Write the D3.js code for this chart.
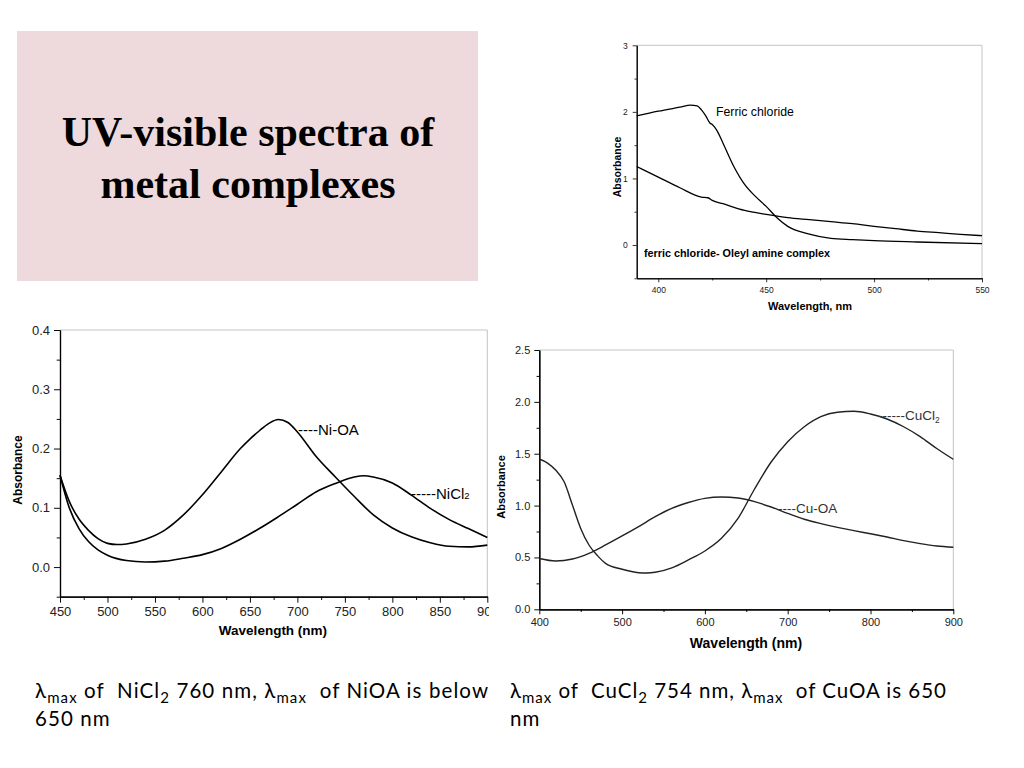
<!DOCTYPE html>
<html><head><meta charset="utf-8">
<script src="https://cdnjs.cloudflare.com/ajax/libs/d3/7.8.5/d3.min.js"></script>
<style>body{margin:0;background:#fff}svg{display:block}text{white-space:pre}</style>
</head><body>
<svg id="c" width="1024" height="768"></svg>
<script>
// ---------- data ----------
const feWavelength = [390,400,410,415,418,420,422,424,425,427,430,435,440,445,450,455,460,470,480,490,500,520,550];
const feChloride   = [1.94,2.01,2.07,2.10,2.09,2.03,1.94,1.83,1.81,1.73,1.53,1.18,0.91,0.73,0.58,0.41,0.28,0.165,0.10,0.08,0.065,0.045,0.02];
const feOAWavelength = [390,400,410,420,423,425,430,440,450,460,470,480,490,500,510,520,530,540,550];
const feOAComplex    = [1.18,1.02,0.86,0.72,0.71,0.67,0.62,0.52,0.46,0.41,0.38,0.35,0.32,0.28,0.245,0.21,0.185,0.16,0.14];
const feXTicks = [400,450,500,550];
const feYTicks = [0,1,2,3];

const niOAWavelength = [450,460,470,480,490,500,510,520,540,560,580,600,620,640,650,660,670,680,690,700,720,740,760,780,800,820,840,860,880,900];
const niOA           = [0.155,0.110,0.081,0.062,0.048,0.040,0.038,0.039,0.047,0.062,0.088,0.122,0.161,0.200,0.216,0.230,0.2425,0.249,0.244,0.228,0.186,0.152,0.119,0.088,0.066,0.051,0.041,0.035,0.034,0.037];
const niClWavelength = [450,460,470,480,490,500,520,540,560,580,600,620,640,660,680,700,720,740,760,770,780,800,820,840,860,880,900];
const niCl2          = [0.155,0.099,0.065,0.043,0.029,0.020,0.011,0.0085,0.010,0.015,0.021,0.0315,0.047,0.065,0.085,0.106,0.127,0.141,0.152,0.154,0.152,0.142,0.1215,0.099,0.080,0.065,0.050];
const niXTicks = [450,500,550,600,650,700,750,800,850,900];
const niYTicks = [0.0,0.1,0.2,0.3,0.4];

const cuWavelength = [400,410,420,430,440,450,460,470,480,500,520,530,540,560,580,600,620,640,660,680,700,720,740,760,780,800,820,840,860,880,900];
const cuCl2        = [1.449,1.41,1.34,1.23,1.006,0.78,0.62,0.52,0.443,0.386,0.353,0.350,0.357,0.40,0.476,0.562,0.684,0.877,1.16,1.42,1.616,1.76,1.857,1.90,1.909,1.883,1.835,1.76,1.665,1.55,1.446];
const cuOAWavelength = [400,420,440,460,480,500,520,540,560,580,600,620,640,660,680,700,720,740,760,780,800,820,840,860,880,900];
const cuOA           = [0.49,0.466,0.485,0.54,0.62,0.707,0.797,0.893,0.974,1.03,1.07,1.083,1.073,1.038,0.986,0.925,0.868,0.826,0.79,0.758,0.729,0.697,0.662,0.633,0.61,0.598];
const cuXTicks = [400,500,600,700,800,900];
const cuYTicks = [0.0,0.5,1.0,1.5,2.0,2.5];

const svg = d3.select("#c");
const defs = svg.append("defs");

// ---------- title box ----------
svg.append("rect").attr("x",17).attr("y",31).attr("width",461).attr("height",250).attr("fill","#eedadd");
const title = svg.append("text").attr("text-anchor","middle")
  .attr("font-family","Liberation Serif, Times New Roman, serif").attr("font-weight","bold").attr("font-size",42).attr("fill","#000");
title.append("tspan").attr("x",248).attr("y",146).text("UV-visible spectra of");
title.append("tspan").attr("x",248).attr("y",198).text("metal complexes");

// ---------- generic chart ----------
function chart(o){
  const g = svg.append("g");
  if(o.clip){
    defs.append("clipPath").attr("id",o.id).append("rect").attr("x",0).attr("y",0).attr("width",o.clip).attr("height",768);
    g.attr("clip-path",`url(#${o.id})`);
  }
  const x = d3.scaleLinear().domain(o.xd).range(o.xr);
  const y = d3.scaleLinear().domain(o.yd).range(o.yr);
  g.append("path").attr("d",`M${o.xr[0]},${o.yr[1]}H${o.xr[1]}V${o.yr[0]}`).attr("fill","none").attr("stroke","#c4c4c4").attr("stroke-width",1);
  const ff = "Liberation Sans, Arial, sans-serif";
  const xa = g.append("g").attr("transform",`translate(0,${o.yr[0]})`)
    .call(d3.axisBottom(x).tickValues(o.xt).tickSize(o.tl).tickPadding(o.tp).tickSizeOuter(0).tickFormat(d3.format("d")));
  const xm = g.append("g").attr("transform",`translate(0,${o.yr[0]})`)
    .call(d3.axisBottom(x).tickValues(o.xm).tickSize(o.tl*0.55).tickFormat("").tickSizeOuter(0));
  const ya = g.append("g").attr("transform",`translate(${o.xr[0]},0)`)
    .call(d3.axisLeft(y).tickValues(o.yt).tickSize(o.tl).tickPadding(o.tp).tickSizeOuter(0).tickFormat(o.yf));
  const ym = g.append("g").attr("transform",`translate(${o.xr[0]},0)`)
    .call(d3.axisLeft(y).tickValues(o.ym).tickSize(o.tl*0.55).tickFormat("").tickSizeOuter(0));
  [xa,xm,ya,ym].forEach(a=>{
    a.select(".domain").attr("stroke","#000").attr("stroke-width",o.aw);
    a.selectAll(".tick line").attr("stroke","#000").attr("stroke-width",o.aw*0.8);
    a.selectAll("text").attr("font-family",ff).attr("font-size",o.fs).attr("fill","#222");
  });
  g.append("text").attr("transform",`translate(${o.ylx},${o.yly}) rotate(-90)`).attr("text-anchor","middle")
    .attr("font-family",ff).attr("font-weight","bold").attr("font-size",o.lfs).text("Absorbance");
  g.append("text").attr("x",o.xlx).attr("y",o.xly).attr("text-anchor","middle")
    .attr("font-family",ff).attr("font-weight","bold").attr("font-size",o.lfs2||o.lfs).text(o.xlab);
  const line = d3.line().x(d=>x(d[0])).y(d=>y(d[1])).curve(d3.curveMonotoneX);
  o.series.forEach(s=>{
    g.append("path").datum(d3.zip(s.x,s.y)).attr("d",line).attr("fill","none")
      .attr("stroke",o.lc).attr("stroke-width",o.lw).attr("stroke-linejoin","round");
  });
  return {g,x,y,ff};
}

// ---------- top: ferric chloride ----------
const fe = chart({id:"fe",xd:[390,550],xr:[636.7,982],yd:[-0.5,3],yr:[278.3,45.3],
  xt:feXTicks,xm:[425,475,525],yt:feYTicks,ym:[-0.5,0.5,1.5,2.5],yf:d3.format("d"),
  tl:4,tp:5,fs:8.5,aw:1,lfs:10.5,lfs2:11,ylx:621,yly:167,xlx:810,xly:310,xlab:"Wavelength, nm",lc:"#000",lw:1.3,
  series:[{x:feWavelength,y:feChloride},{x:feOAWavelength,y:feOAComplex}]});
fe.g.append("text").attr("x",716).attr("y",116).attr("font-family",fe.ff).attr("font-size",12.3).text("Ferric chloride");
fe.g.append("text").attr("x",644).attr("y",257).attr("font-family",fe.ff).attr("font-weight","bold").attr("font-size",10.8).text("ferric chloride- Oleyl amine complex");

// ---------- Ni ----------
const ni = chart({id:"ni",clip:489,xd:[450,900],xr:[60,487.3],yd:[-0.05,0.4],yr:[596.7,330],
  xt:niXTicks,xm:[475,525,575,625,675,725,775,825,875],yt:niYTicks,ym:[-0.05,0.05,0.15,0.25,0.35],yf:d3.format(".1f"),
  tl:6,tp:4,fs:13,aw:1.2,lfs:12,lfs2:13.5,ylx:22,yly:470,xlx:273,xly:635,xlab:"Wavelength (nm)",lc:"#000",lw:1.6,
  series:[{x:niOAWavelength,y:niOA},{x:niClWavelength,y:niCl2}]});
ni.g.append("text").attr("x",298).attr("y",435).attr("font-family",ni.ff).attr("font-size",15).text("----Ni-OA");
const nl = ni.g.append("text").attr("x",411).attr("y",499).attr("font-family",ni.ff).attr("font-size",15).text("-----NiCl");
nl.append("tspan").attr("font-size",9.5).text("2");

// ---------- Cu ----------
const cu = chart({id:"cu",xd:[400,900],xr:[539.3,953.3],yd:[0,2.5],yr:[609.3,350],
  xt:cuXTicks,xm:[450,550,650,750,850],yt:cuYTicks,ym:[0.25,0.75,1.25,1.75,2.25],yf:d3.format(".1f"),
  tl:5,tp:4,fs:11,aw:1.2,lfs:11,lfs2:14,ylx:505,yly:487,xlx:746,xly:648,xlab:"Wavelength (nm)",lc:"#222",lw:1.4,
  series:[{x:cuWavelength,y:cuCl2},{x:cuOAWavelength,y:cuOA}]});
const cl = cu.g.append("text").attr("x",878).attr("y",420).attr("font-family",cu.ff).attr("font-size",13.5).attr("fill","#333").text("------CuCl");
cl.append("tspan").attr("font-size",8.5).attr("dy",3).text("2");
cu.g.append("text").attr("x",778).attr("y",513).attr("font-family",cu.ff).attr("font-size",13.5).attr("fill","#333").text("----Cu-OA");

// ---------- captions ----------
function caption(x,y,parts,line2,targetW){
  const ff = "Lato, Open Sans, sans-serif";
  const t = svg.append("text").attr("x",x).attr("y",y).attr("font-family",ff).attr("font-size",20.5).attr("fill","#000");
  let chars = 0;
  parts.forEach(p=>{
    const s = t.append("tspan").text(p[0]);
    chars += p[0].length;
    if(p[1]==="sub"){ s.attr("font-size",15).attr("dy",5); }
    if(p[2]) s.attr("dy",-5);
  });
  const w = t.node().getBBox().width;
  const ls = (targetW - w)/Math.max(1,chars-1);
  t.attr("letter-spacing",ls);
  svg.append("text").attr("x",x).attr("y",y+28).attr("font-family",ff).attr("font-size",20.5).attr("letter-spacing",ls).text(line2);
}
caption(35,698,[["λ"],["max","sub"],[" of  NiCl",null,true],["2","sub"],[" 760 nm, λ",null,true],["max","sub"],["  of NiOA is below",null,true]],"650 nm",453);
caption(510,698,[["λ"],["max","sub"],[" of  CuCl",null,true],["2","sub"],[" 754 nm, λ",null,true],["max","sub"],["  of CuOA is 650",null,true]],"nm",436);
</script>
</body></html>
